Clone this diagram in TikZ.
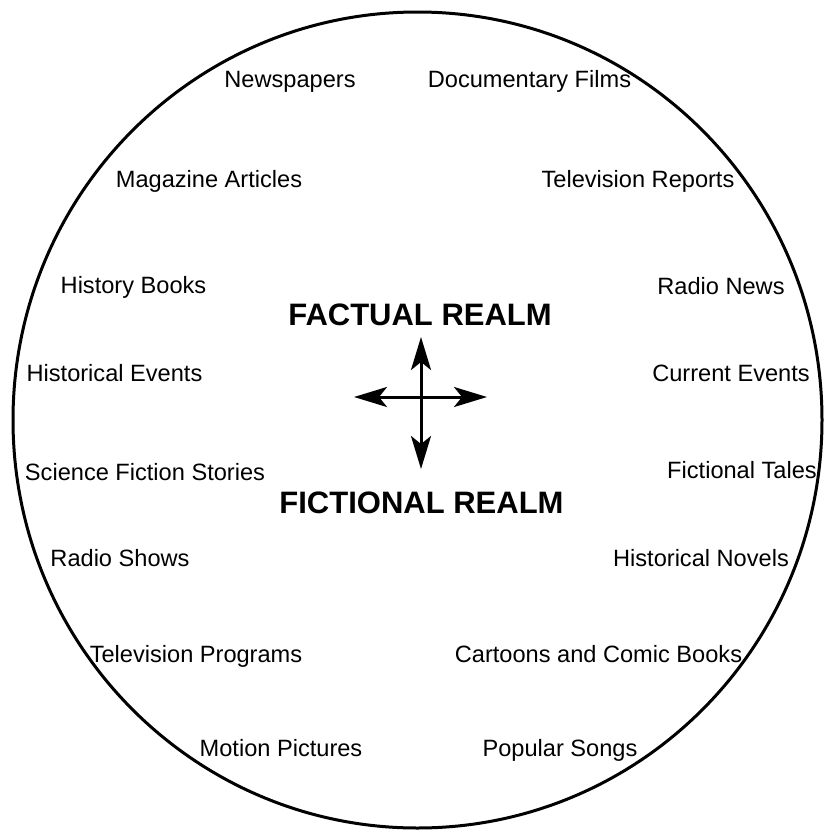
\documentclass[tikz,border=0pt]{standalone}
\usepackage{fontspec}
\setmainfont{Liberation Sans}
\usetikzlibrary{arrows.meta}
\begin{document}
\begin{tikzpicture}[x=1pt,y=-1pt,
  lbl/.style={inner sep=0pt, anchor=base, font=\fontsize{23.6}{26}\selectfont},
  realm/.style={inner sep=0pt, anchor=base, font=\fontsize{31}{34}\selectfont\bfseries},
  arr/.style={line width=3pt, -{Stealth[length=33pt, width=20pt, inset=8pt]}},
  rim/.style={line width=3pt}]
\useasboundingbox (0,0) rectangle (825,830);
\draw[rim] (417.5,420) ellipse [x radius=404.5, y radius=408];
\node[lbl] (n1) at (290,87) {Newspapers};
\node[lbl] (n2) at (529.5,87) {Documentary Films};
\node[lbl] (n3) at (209,187) {Magazine Articles};
\node[lbl] (n4) at (638,187) {Television Reports};
\node[lbl] (n5) at (133.5,293) {History Books};
\node[lbl] (n6) at (721,294) {Radio News};
\node[lbl] (n7) at (114.5,381) {Historical Events};
\node[lbl] (n8) at (731,381) {Current Events};
\node[lbl] (n9) at (145,480) {Science Fiction Stories};
\node[lbl] (n10) at (742,478) {Fictional Tales};
\node[lbl] (n11) at (120,566) {Radio Shows};
\node[lbl] (n12) at (701,566) {Historical Novels};
\node[lbl] (n13) at (196,662) {Television Programs};
\node[lbl] (n14) at (598.5,662) {Cartoons and Comic Books};
\node[lbl] (n15) at (281,756) {Motion Pictures};
\node[lbl] (n16) at (560,756) {Popular Songs};
\node[realm] (fact) at (420,325) {FACTUAL REALM};
\node[realm] (fict) at (421.5,513) {FICTIONAL REALM};
\coordinate (c) at (421,397);
\coordinate (up) at (421,337);
\coordinate (dn) at (421,469);
\coordinate (lt) at (354,397);
\coordinate (rt) at (487,397);
\draw[arr] (c) -- (up);
\draw[arr] (c) -- (dn);
\draw[arr] (c) -- (lt);
\draw[arr] (c) -- (rt);
\end{tikzpicture}
\end{document}
